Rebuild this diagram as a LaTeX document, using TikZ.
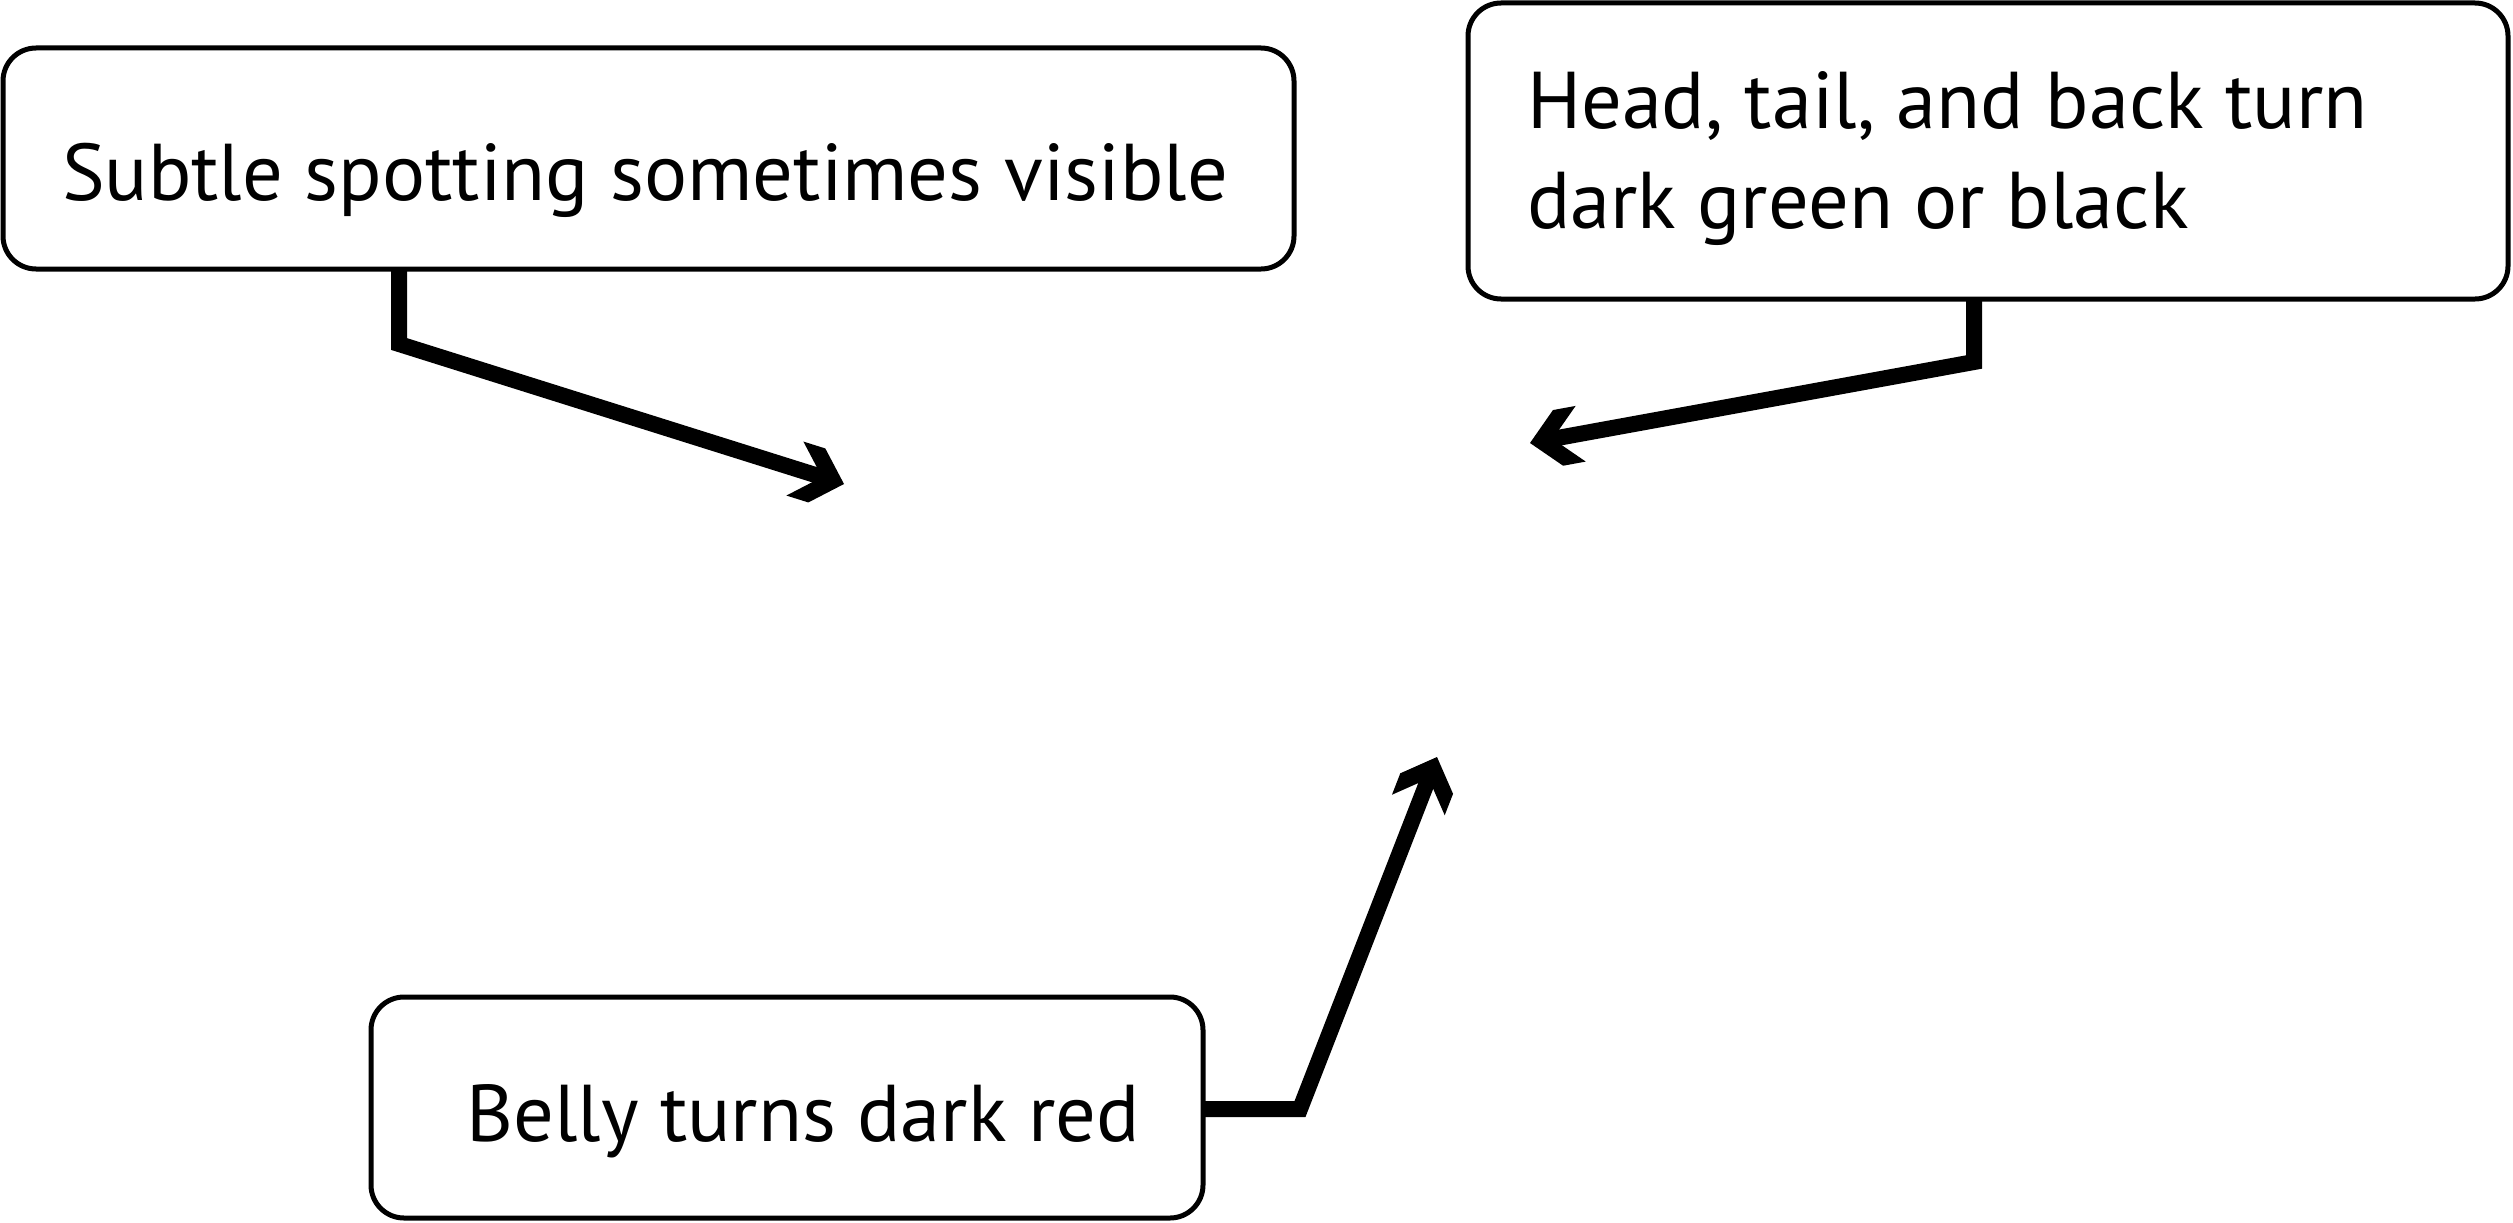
\documentclass[tikz,border=0pt]{standalone}
\usepackage{fontspec}
\setmainfont{PT Sans}
\newlength\reflen
\pgfdeclarearrow{
  name = Chev,
  parameters = {},
  setup code = {
    \pgfarrowssettipend{0pt}
    \pgfarrowssetlineend{-20pt}
    \pgfarrowssetbackend{-51.5pt}
  },
  drawing code = {
    \pgfpathmoveto{\pgfqpoint{0pt}{0pt}}
    \pgfpathlineto{\pgfqpoint{-28.5pt}{28.3pt}}
    \pgfpathlineto{\pgfqpoint{-51.5pt}{28.3pt}}
    \pgfpathlineto{\pgfqpoint{-23pt}{0pt}}
    \pgfpathlineto{\pgfqpoint{-51.5pt}{-28.3pt}}
    \pgfpathlineto{\pgfqpoint{-28.5pt}{-28.3pt}}
    \pgfpathclose
    \pgfusepathqfill
  },
}
\begin{document}
\settowidth{\reflen}{\fontsize{100pt}{120pt}\selectfont Subtle spotting sometimes visible}
\pgfmathsetmacro\fsz{1166/\reflen*100}
\begin{tikzpicture}[x=1pt,y=-1pt,
  box/.style={draw, line width=5pt, rounded corners=33pt, inner sep=0pt, outer sep=0pt},
  lbl/.style={inner sep=0pt, outer sep=0pt, anchor=base, align=left,
              font=\fontsize{\fsz pt}{100pt}\selectfont},
  conn/.style={line width=16pt, line join=miter, -Chev}]
\useasboundingbox[fill=white] (0,0) rectangle (2513,1223);
% boxes
\node[box, minimum width=1291pt, minimum height=221pt] (box1) at (648.5,158.5) {};
\node[box, minimum width=1040pt, minimum height=296pt] (box2) at (1988,151) {};
\node[box, minimum width=832pt, minimum height=221pt] (box3) at (787,1107.5) {};
% labels
\node[lbl] (t1) at (645,200) {Subtle spotting sometimes visible};
\node[lbl, anchor=base west] (t2) at (1527,228) {Head, tail, and back turn\\dark green or black};
\node[lbl] (t3) at (803,1141) {Belly turns dark red};
% connector points
\coordinate (b1) at (399,344);
\coordinate (e1) at (844,484);
\coordinate (b2) at (1974,362);
\coordinate (e2) at (1530,443);
\coordinate (b3) at (1300,1109);
\coordinate (e3) at (1437,757);
% connectors
\draw[conn] (box1.south -| b1) -- (b1) -- (e1);
\draw[conn] (box2.south -| b2) -- (b2) -- (e2);
\draw[conn] (box3.east |- b3) -- (b3) -- (e3);
\end{tikzpicture}
\end{document}
